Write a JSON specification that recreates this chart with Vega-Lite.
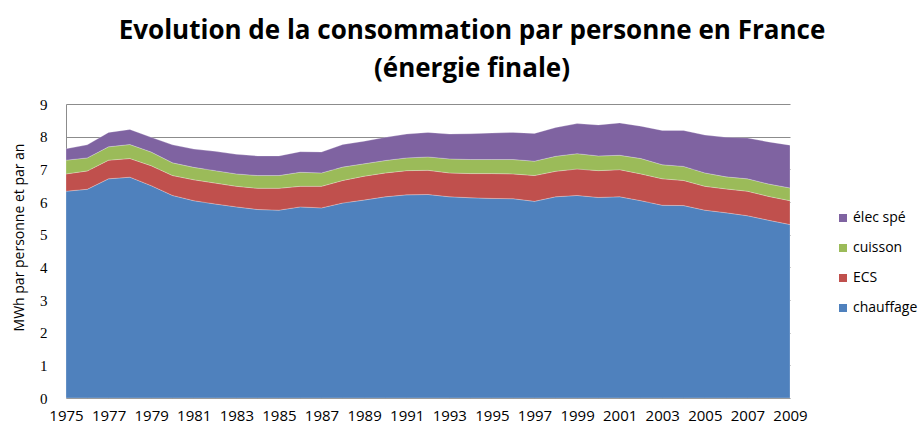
{
  "$schema": "https://vega.github.io/schema/vega-lite/v6.json",
  "width": 724,
  "height": 294,
  "autosize": "none",
  "padding": {"left": 66, "top": 104, "right": 131, "bottom": 29},
  "background": "white",
  "config": {"view": {"stroke": null}, "font": "Open Sans"},
  "title": {
    "text": ["Evolution de la consommation par personne en France", "(énergie finale)"],
    "font": "Open Sans",
    "fontSize": 26,
    "fontWeight": "bold",
    "color": "#000000",
    "anchor": "middle",
    "dx": 44,
    "lineHeight": 38,
    "offset": 15
  },
  "data": {
    "values": [
      {"annee": 1975, "serie": "chauffage", "valeur": 6.33}, {"annee": 1975, "serie": "ECS", "valeur": 0.53}, {"annee": 1975, "serie": "cuisson", "valeur": 0.42}, {"annee": 1975, "serie": "élec spé", "valeur": 0.35},
      {"annee": 1976, "serie": "chauffage", "valeur": 6.39}, {"annee": 1976, "serie": "ECS", "valeur": 0.56}, {"annee": 1976, "serie": "cuisson", "valeur": 0.40}, {"annee": 1976, "serie": "élec spé", "valeur": 0.40},
      {"annee": 1977, "serie": "chauffage", "valeur": 6.71}, {"annee": 1977, "serie": "ECS", "valeur": 0.57}, {"annee": 1977, "serie": "cuisson", "valeur": 0.41}, {"annee": 1977, "serie": "élec spé", "valeur": 0.44},
      {"annee": 1978, "serie": "chauffage", "valeur": 6.76}, {"annee": 1978, "serie": "ECS", "valeur": 0.57}, {"annee": 1978, "serie": "cuisson", "valeur": 0.43}, {"annee": 1978, "serie": "élec spé", "valeur": 0.46},
      {"annee": 1979, "serie": "chauffage", "valeur": 6.50}, {"annee": 1979, "serie": "ECS", "valeur": 0.61}, {"annee": 1979, "serie": "cuisson", "valeur": 0.42}, {"annee": 1979, "serie": "élec spé", "valeur": 0.45},
      {"annee": 1980, "serie": "chauffage", "valeur": 6.20}, {"annee": 1980, "serie": "ECS", "valeur": 0.61}, {"annee": 1980, "serie": "cuisson", "valeur": 0.39}, {"annee": 1980, "serie": "élec spé", "valeur": 0.55},
      {"annee": 1981, "serie": "chauffage", "valeur": 6.04}, {"annee": 1981, "serie": "ECS", "valeur": 0.64}, {"annee": 1981, "serie": "cuisson", "valeur": 0.38}, {"annee": 1981, "serie": "élec spé", "valeur": 0.56},
      {"annee": 1982, "serie": "chauffage", "valeur": 5.94}, {"annee": 1982, "serie": "ECS", "valeur": 0.64}, {"annee": 1982, "serie": "cuisson", "valeur": 0.38}, {"annee": 1982, "serie": "élec spé", "valeur": 0.59},
      {"annee": 1983, "serie": "chauffage", "valeur": 5.85}, {"annee": 1983, "serie": "ECS", "valeur": 0.63}, {"annee": 1983, "serie": "cuisson", "valeur": 0.38}, {"annee": 1983, "serie": "élec spé", "valeur": 0.60},
      {"annee": 1984, "serie": "chauffage", "valeur": 5.77}, {"annee": 1984, "serie": "ECS", "valeur": 0.65}, {"annee": 1984, "serie": "cuisson", "valeur": 0.39}, {"annee": 1984, "serie": "élec spé", "valeur": 0.60},
      {"annee": 1985, "serie": "chauffage", "valeur": 5.75}, {"annee": 1985, "serie": "ECS", "valeur": 0.67}, {"annee": 1985, "serie": "cuisson", "valeur": 0.39}, {"annee": 1985, "serie": "élec spé", "valeur": 0.60},
      {"annee": 1986, "serie": "chauffage", "valeur": 5.85}, {"annee": 1986, "serie": "ECS", "valeur": 0.63}, {"annee": 1986, "serie": "cuisson", "valeur": 0.43}, {"annee": 1986, "serie": "élec spé", "valeur": 0.63},
      {"annee": 1987, "serie": "chauffage", "valeur": 5.82}, {"annee": 1987, "serie": "ECS", "valeur": 0.66}, {"annee": 1987, "serie": "cuisson", "valeur": 0.41}, {"annee": 1987, "serie": "élec spé", "valeur": 0.64},
      {"annee": 1988, "serie": "chauffage", "valeur": 5.97}, {"annee": 1988, "serie": "ECS", "valeur": 0.69}, {"annee": 1988, "serie": "cuisson", "valeur": 0.41}, {"annee": 1988, "serie": "élec spé", "valeur": 0.69},
      {"annee": 1989, "serie": "chauffage", "valeur": 6.06}, {"annee": 1989, "serie": "ECS", "valeur": 0.73}, {"annee": 1989, "serie": "cuisson", "valeur": 0.38}, {"annee": 1989, "serie": "élec spé", "valeur": 0.69},
      {"annee": 1990, "serie": "chauffage", "valeur": 6.16}, {"annee": 1990, "serie": "ECS", "valeur": 0.73}, {"annee": 1990, "serie": "cuisson", "valeur": 0.38}, {"annee": 1990, "serie": "élec spé", "valeur": 0.71},
      {"annee": 1991, "serie": "chauffage", "valeur": 6.22}, {"annee": 1991, "serie": "ECS", "valeur": 0.74}, {"annee": 1991, "serie": "cuisson", "valeur": 0.39}, {"annee": 1991, "serie": "élec spé", "valeur": 0.73},
      {"annee": 1992, "serie": "chauffage", "valeur": 6.23}, {"annee": 1992, "serie": "ECS", "valeur": 0.74}, {"annee": 1992, "serie": "cuisson", "valeur": 0.41}, {"annee": 1992, "serie": "élec spé", "valeur": 0.75},
      {"annee": 1993, "serie": "chauffage", "valeur": 6.16}, {"annee": 1993, "serie": "ECS", "valeur": 0.73}, {"annee": 1993, "serie": "cuisson", "valeur": 0.43}, {"annee": 1993, "serie": "élec spé", "valeur": 0.76},
      {"annee": 1994, "serie": "chauffage", "valeur": 6.13}, {"annee": 1994, "serie": "ECS", "valeur": 0.74}, {"annee": 1994, "serie": "cuisson", "valeur": 0.43}, {"annee": 1994, "serie": "élec spé", "valeur": 0.79},
      {"annee": 1995, "serie": "chauffage", "valeur": 6.11}, {"annee": 1995, "serie": "ECS", "valeur": 0.76}, {"annee": 1995, "serie": "cuisson", "valeur": 0.43}, {"annee": 1995, "serie": "élec spé", "valeur": 0.81},
      {"annee": 1996, "serie": "chauffage", "valeur": 6.10}, {"annee": 1996, "serie": "ECS", "valeur": 0.76}, {"annee": 1996, "serie": "cuisson", "valeur": 0.44}, {"annee": 1996, "serie": "élec spé", "valeur": 0.83},
      {"annee": 1997, "serie": "chauffage", "valeur": 6.02}, {"annee": 1997, "serie": "ECS", "valeur": 0.79}, {"annee": 1997, "serie": "cuisson", "valeur": 0.44}, {"annee": 1997, "serie": "élec spé", "valeur": 0.85},
      {"annee": 1998, "serie": "chauffage", "valeur": 6.16}, {"annee": 1998, "serie": "ECS", "valeur": 0.78}, {"annee": 1998, "serie": "cuisson", "valeur": 0.46}, {"annee": 1998, "serie": "élec spé", "valeur": 0.88},
      {"annee": 1999, "serie": "chauffage", "valeur": 6.20}, {"annee": 1999, "serie": "ECS", "valeur": 0.81}, {"annee": 1999, "serie": "cuisson", "valeur": 0.47}, {"annee": 1999, "serie": "élec spé", "valeur": 0.92},
      {"annee": 2000, "serie": "chauffage", "valeur": 6.14}, {"annee": 2000, "serie": "ECS", "valeur": 0.82}, {"annee": 2000, "serie": "cuisson", "valeur": 0.45}, {"annee": 2000, "serie": "élec spé", "valeur": 0.95},
      {"annee": 2001, "serie": "chauffage", "valeur": 6.16}, {"annee": 2001, "serie": "ECS", "valeur": 0.83}, {"annee": 2001, "serie": "cuisson", "valeur": 0.44}, {"annee": 2001, "serie": "élec spé", "valeur": 0.99},
      {"annee": 2002, "serie": "chauffage", "valeur": 6.04}, {"annee": 2002, "serie": "ECS", "valeur": 0.82}, {"annee": 2002, "serie": "cuisson", "valeur": 0.47}, {"annee": 2002, "serie": "élec spé", "valeur": 0.99},
      {"annee": 2003, "serie": "chauffage", "valeur": 5.90}, {"annee": 2003, "serie": "ECS", "valeur": 0.81}, {"annee": 2003, "serie": "cuisson", "valeur": 0.43}, {"annee": 2003, "serie": "élec spé", "valeur": 1.05},
      {"annee": 2004, "serie": "chauffage", "valeur": 5.89}, {"annee": 2004, "serie": "ECS", "valeur": 0.77}, {"annee": 2004, "serie": "cuisson", "valeur": 0.43}, {"annee": 2004, "serie": "élec spé", "valeur": 1.10},
      {"annee": 2005, "serie": "chauffage", "valeur": 5.75}, {"annee": 2005, "serie": "ECS", "valeur": 0.73}, {"annee": 2005, "serie": "cuisson", "valeur": 0.41}, {"annee": 2005, "serie": "élec spé", "valeur": 1.16},
      {"annee": 2006, "serie": "chauffage", "valeur": 5.67}, {"annee": 2006, "serie": "ECS", "valeur": 0.73}, {"annee": 2006, "serie": "cuisson", "valeur": 0.37}, {"annee": 2006, "serie": "élec spé", "valeur": 1.21},
      {"annee": 2007, "serie": "chauffage", "valeur": 5.58}, {"annee": 2007, "serie": "ECS", "valeur": 0.75}, {"annee": 2007, "serie": "cuisson", "valeur": 0.38}, {"annee": 2007, "serie": "élec spé", "valeur": 1.25},
      {"annee": 2008, "serie": "chauffage", "valeur": 5.44}, {"annee": 2008, "serie": "ECS", "valeur": 0.73}, {"annee": 2008, "serie": "cuisson", "valeur": 0.38}, {"annee": 2008, "serie": "élec spé", "valeur": 1.29},
      {"annee": 2009, "serie": "chauffage", "valeur": 5.31}, {"annee": 2009, "serie": "ECS", "valeur": 0.73}, {"annee": 2009, "serie": "cuisson", "valeur": 0.39}, {"annee": 2009, "serie": "élec spé", "valeur": 1.31}
    ]
  },
  "transform": [
    {"calculate": "indexof(['chauffage','ECS','cuisson','élec spé'], datum.serie)", "as": "ordre"}
  ],
  "mark": {"type": "area", "interpolate": "linear", "stroke": "white", "strokeOpacity": 0.35, "strokeWidth": 0.7},
  "encoding": {
    "x": {
      "field": "annee",
      "type": "quantitative",
      "scale": {"domain": [1975, 2009], "nice": false, "zero": false},
      "axis": {
        "title": null,
        "values": [1975, 1977, 1979, 1981, 1983, 1985, 1987, 1989, 1991, 1993, 1995, 1997, 1999, 2001, 2003, 2005, 2007, 2009],
        "format": "d",
        "grid": false,
        "domain": false,
        "ticks": false,
        "labelFont": "Open Sans",
        "labelFontSize": 15,
        "labelColor": "#000000",
        "labelPadding": 10,
        "labelOverlap": false,
        "labelFlush": false
      }
    },
    "y": {
      "field": "valeur",
      "type": "quantitative",
      "stack": "zero",
      "scale": {"domain": [0, 9], "nice": false},
      "axis": {
        "title": "MWh par personne et par an",
        "titleFont": "Open Sans",
        "titleFontSize": 14,
        "titleFontWeight": "normal",
        "titleColor": "#000000",
        "titlePadding": 13,
        "titleY": 133,
        "values": [0, 1, 2, 3, 4, 5, 6, 7, 8, 9],
        "grid": true,
        "gridColor": "#8c8c8c",
        "gridWidth": 1,
        "domain": true,
        "domainColor": "#8c8c8c",
        "ticks": false,
        "labelFont": "Liberation Serif",
        "labelFontSize": 15,
        "labelColor": "#000000",
        "labelPadding": 19
      }
    },
    "color": {
      "field": "serie",
      "type": "nominal",
      "scale": {
        "domain": ["élec spé", "cuisson", "ECS", "chauffage"],
        "range": ["#7f63a1", "#9bbb59", "#c0504d", "#4f81bd"]
      },
      "legend": {
        "title": null,
        "orient": "none",
        "legendX": 770,
        "legendY": 107,
        "padding": 0,
        "symbolType": "square",
        "symbolSize": 64,
        "symbolStrokeWidth": 0,
        "labelFont": "Open Sans",
        "labelFontSize": 14,
        "labelColor": "#000000",
        "labelOffset": 3,
        "rowPadding": 16
      }
    },
    "order": {"field": "ordre", "type": "quantitative", "sort": "ascending"}
  }
}
